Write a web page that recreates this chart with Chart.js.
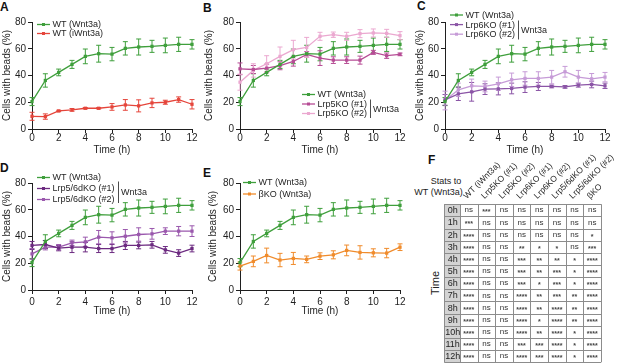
<!DOCTYPE html>
<html><head><meta charset="utf-8">
<script src="https://cdn.jsdelivr.net/npm/chart.js@4.4.1/dist/chart.umd.min.js"></script>
<style>
html,body{margin:0;padding:0;background:#fff;}
body{width:617px;height:364px;position:relative;overflow:hidden;font-family:"Liberation Sans",Arial,sans-serif;color:#1a1a1a;}
canvas{position:absolute;}
.lbl{position:absolute;font:bold 12px "Liberation Sans",Arial,sans-serif;line-height:1;color:#111;}
.txt{position:absolute;font:9px "Liberation Sans",Arial,sans-serif;line-height:1;color:#222;white-space:nowrap;transform:translate(-50%,-50%);}
</style></head><body>
<div class="lbl" style="left:0px;top:1px">A</div>
<div class="lbl" style="left:203px;top:2px">B</div>
<div class="lbl" style="left:417px;top:0px">C</div>
<div class="lbl" style="left:0px;top:162px">D</div>
<div class="lbl" style="left:203px;top:167px">E</div>
<div class="lbl" style="left:428px;top:154px">F</div>
<div class="txt" style="left:446px;top:181px">Stats to</div>
<div class="txt" style="left:438.5px;top:192px">WT (Wnt3a)</div>
<div class="txt" style="left:435px;top:283px;font-size:11px;transform:translate(-50%,-50%) rotate(-90deg)">Time</div>
<canvas id="cA" width="200" height="147" style="left:0px;top:10px;width:200px;height:147px"></canvas>
<canvas id="cB" width="206" height="147" style="left:202px;top:10px;width:206px;height:147px"></canvas>
<canvas id="cC" width="200" height="147" style="left:413px;top:10px;width:200px;height:147px"></canvas>
<canvas id="cD" width="200" height="147" style="left:0px;top:171px;width:200px;height:147px"></canvas>
<canvas id="cE" width="202" height="147" style="left:206px;top:171px;width:202px;height:147px"></canvas>
<canvas id="cF" width="212" height="224" style="left:405px;top:140px;width:212px;height:224px"></canvas>
<script>
// ---------- data ----------
const hours = [0,1,2,3,4,5,6,7,8,9,10,11,12];
const wtWnt3a      = [20.5,36.3,42.3,48.3,54.3,56.3,56.0,60.3,61.3,61.8,62.5,63.3,63.3];
const wtWnt3aErr   = [3,5,2.5,3,5.5,6.3,5,5,6,4.5,5.5,5.3,3.5];
const wtIWnt3a     = [9.5,9.3,13.5,14.3,15.5,15.5,16.5,18,17.3,19.5,20,22,18.5];
const wtIWnt3aErr  = [3,2,0.5,1,0.5,0.5,2.5,4,4.5,3.5,1.5,2,3.5];
const lrp5ko1      = [45,44.5,45.5,47.3,50.5,55.8,53,51.5,51.5,51.5,57.3,54.8,55.8];
const lrp5ko1Err   = [4.4,3,3,3,3.5,2,5.5,2.5,2.5,3,1.5,2,1];
const lrp5ko2      = [35,43.8,48.8,54.3,59.3,61,69.3,70.5,69.3,71.3,71.8,71.5,69.8];
const lrp5ko2Err   = [6,5,6,7,7,7.5,3,2,3,3,3,3,3];
const lrp6ko1      = [21.8,26.3,27.8,29.8,30,30.3,31.3,31.8,31.8,31.5,32.8,33.3,32.3];
const lrp6ko1Err   = [4,5,7,4,4.5,4,4,3,1,1,1.5,2.5,2];
const lrp6ko2      = [21.3,29.3,32.3,31.8,33.8,36.8,37.8,37.8,38.8,42.8,38.8,37.5,38.8];
const lrp6ko2Err   = [7,5,5,4,5,5,5,5,5,4,5,4,3.5];
const dko1         = [33.3,34,31.3,32,32,31,31,33.3,33.3,33.8,30,27.6,31];
const dko1Err      = [3,3,2,4,3.5,3,3,3,2.5,2.5,2.5,2.5,2.5];
const dko2         = [27,32,32,35.3,36,39.5,39,40.2,41.5,42,44,44,44];
const dko2Err      = [4,2,2,2,3.5,5,4.5,5,5,4,2.5,3.5,4];
const bko          = [17.9,21.4,25.8,22.4,23.6,22.9,25.3,26.3,29.6,28.1,27.8,27.6,32];
const bkoErr       = [3,4,5.5,5,4.5,2.5,2.5,3,4,5,3,3.5,2.5];
const yTicks = [0,20,40,60,80];
const xTicks = [0,2,4,6,8,10,12];

const statCols = ['WT (iWnt3a)','Lrp5KO (#1)','Lrp5KO (#2)','Lrp6KO (#1)','Lrp6KO (#2)','Lrp5/6dKO (#1)','Lrp5/6dKO (#2)','βKO'];
const statRows = ['0h','1h','2h','3h','4h','5h','6h','7h','8h','9h','10h','11h','12h'];
const statWTi    = ['ns','***','****','****','****','****','****','****','****','****','****','****','****'];
const statL5a    = ['***','ns','ns','ns','ns','ns','ns','ns','ns','ns','ns','ns','ns'];
const statL5b    = ['ns','ns','ns','ns','ns','ns','ns','ns','ns','ns','ns','ns','ns'];
const statL6a    = ['ns','ns','ns','**','***','***','***','****','****','****','****','***','****'];
const statL6b    = ['ns','ns','ns','*','**','**','*','**','**','*','**','***','***'];
const statDa     = ['ns','ns','ns','*','**','***','***','***','****','****','****','****','****'];
const statDb     = ['ns','ns','ns','ns','*','*','*','**','**','**','*','*','*'];
const statBKO    = ['ns','ns','*','***','****','****','****','****','****','****','****','****','****'];
const statTable  = [statWTi,statL5a,statL5b,statL6a,statL6b,statDa,statDb,statBKO];

// ---------- styles ----------
const FAM = '"Liberation Sans", Arial, sans-serif';
const INK = '#1f1f1f';
const C = {wt:'#3f9f3c', wti:'#e5453b', l5a:'#b64c95', l5b:'#eba8d0', l6a:'#8b55a6', l6b:'#c69bd7', da:'#6c2a80', db:'#9a58ad', bko:'#f08b2b'};

const errPlugin = {
  id:'errBars',
  beforeDatasetsDraw(chart){
    const ctx = chart.ctx, ys = chart.scales.y;
    chart.data.datasets.forEach((ds,di)=>{
      const meta = chart.getDatasetMeta(di);
      ctx.save(); ctx.strokeStyle = ds.borderColor; ctx.lineWidth = 1;
      meta.data.forEach((pt,i)=>{
        const v = ds.data[i].y, e = ds.errors[i];
        const yt = ys.getPixelForValue(v+e), yb = ys.getPixelForValue(v-e);
        const x = pt.x;
        ctx.beginPath();
        ctx.moveTo(x,yt); ctx.lineTo(x,yb);
        ctx.moveTo(x-2.5,yt); ctx.lineTo(x+2.5,yt);
        ctx.moveTo(x-2.5,yb); ctx.lineTo(x+2.5,yb);
        ctx.stroke();
      });
      ctx.restore();
    });
  }
};

const legendPlugin = {
  id:'sideLegend',
  afterDraw(chart, args, o){
    if(!o || o.x === undefined) return;
    const ctx = chart.ctx;
    const ox = chart.canvas.offsetLeft, oy = chart.canvas.offsetTop;
    ctx.save();
    ctx.font = '9px ' + FAM;
    ctx.textBaseline = 'middle';
    chart.data.datasets.forEach((ds,i)=>{
      const x0 = o.x - ox, y = o.y + i*o.rowH - oy;
      ctx.strokeStyle = ds.borderColor; ctx.lineWidth = 1.3;
      ctx.beginPath(); ctx.moveTo(x0,y); ctx.lineTo(x0+13,y); ctx.stroke();
      ctx.fillStyle = ds.borderColor;
      ctx.fillRect(x0+6.5-1.5,y-1.5,3,3);
      ctx.fillStyle = INK;
      ctx.fillText(ds.label, x0+15.5, y+0.5);
    });
    if(o.bracket){
      const b = o.bracket;
      ctx.strokeStyle = INK; ctx.lineWidth = 0.8;
      ctx.beginPath(); ctx.moveTo(b.x-ox+0.5,b.y1-oy); ctx.lineTo(b.x-ox+0.5,b.y2-oy); ctx.stroke();
      ctx.fillStyle = INK;
      ctx.fillText(b.text, b.x-ox+3, (b.y1+b.y2)/2-oy+0.5);
    }
    ctx.restore();
  }
};

function mkDs(label, vals, errs, color){
  return {label, data: hours.map((h,i)=>({x:h,y:vals[i]})), errors: errs,
    borderColor: color, backgroundColor: color, pointBackgroundColor: color,
    pointBorderWidth: 0, pointStyle:'rect', pointRadius: 2.3, borderWidth: 1.3,
    tension: 0, clip: false};
}

function axisCommon(){
  return {
    grid:{display:true, drawOnChartArea:false, drawTicks:true, tickLength:4, tickColor:INK, lineWidth:1},
    border:{display:true, color:INK, width:1}
  };
}

function lineChart(id, yW, xPad, yTitlePad, datasets, legend){
  const ax = axisCommon(), ay = axisCommon();
  new Chart(document.getElementById(id), {
    type:'line',
    data:{datasets},
    options:{
      responsive:false, animation:false, devicePixelRatio:1,
      layout:{padding:{top:12,right:8,bottom:0,left:0}},
      plugins:{legend:{display:false}, tooltip:{enabled:false}, sideLegend:legend},
      scales:{
        x:{type:'linear', min:0, max:12, offset:false,
           afterBuildTicks(s){ s.ticks = xTicks.map(v=>({value:v})); },
           ticks:{color:INK, font:{size:10, family:FAM}, padding:xPad, maxRotation:0, autoSkip:false},
           grid:ax.grid, border:ax.border,
           title:{display:true, text:'Time (h)', color:INK, font:{size:10, family:FAM}, padding:{top:0,bottom:1}},
           afterFit(s){ s.height = 28; }},
        y:{type:'linear', min:0, max:80,
           afterBuildTicks(s){ s.ticks = yTicks.map(v=>({value:v})); },
           ticks:{color:INK, font:{size:10, family:FAM}, padding:2},
           grid:ay.grid, border:ay.border,
           title:{display:true, text:'Cells with beads (%)', color:INK, font:{size:10, family:FAM}, padding:{top:yTitlePad,bottom:0}},
           afterFit(s){ s.width = yW; }}
      }
    },
    plugins:[errPlugin, legendPlugin]
  });
}

lineChart('cA', 32, -1, 1, [
  mkDs('WT (Wnt3a)', wtWnt3a, wtWnt3aErr, C.wt),
  mkDs('WT (iWnt3a)', wtIWnt3a, wtIWnt3aErr, C.wti)
], {x:37, y:24.5, rowH:9});

lineChart('cB', 38, -1, 1, [
  mkDs('WT (Wnt3a)', wtWnt3a, wtWnt3aErr, C.wt),
  mkDs('Lrp5KO (#1)', lrp5ko1, lrp5ko1Err, C.l5a),
  mkDs('Lrp5KO (#2)', lrp5ko2, lrp5ko2Err, C.l5b)
], {x:302, y:94.5, rowH:9.5, bracket:{x:370, y1:99.5, y2:118, text:'Wnt3a'}});

lineChart('cC', 32, -1, 1, [
  mkDs('WT (Wnt3a)', wtWnt3a, wtWnt3aErr, C.wt),
  mkDs('Lrp6KO (#1)', lrp6ko1, lrp6ko1Err, C.l6a),
  mkDs('Lrp6KO (#2)', lrp6ko2, lrp6ko2Err, C.l6b)
], {x:450, y:15, rowH:9.6, bracket:{x:518, y1:20.5, y2:39.5, text:'Wnt3a'}});

lineChart('cD', 32, 2, 1, [
  mkDs('WT (Wnt3a)', wtWnt3a, wtWnt3aErr, C.wt),
  mkDs('Lrp5/6dKO (#1)', dko1, dko1Err, C.da),
  mkDs('Lrp5/6dKO (#2)', dko2, dko2Err, C.db)
], {x:37, y:177.5, rowH:11, bracket:{x:118, y1:181.5, y2:203, text:'Wnt3a'}});

lineChart('cE', 34, 2, 1, [
  mkDs('WT (Wnt3a)', wtWnt3a, wtWnt3aErr, C.wt),
  mkDs('βKO (Wnt3a)', bko, bkoErr, C.bko)
], {x:243, y:182.5, rowH:11.5});

// ---------- stats table ----------
const cellData = [];
statTable.forEach((col,c)=>col.forEach((v,r)=>cellData.push({x:c+0.5, y:r+0.5, v})));

const tablePlugin = {
  id:'statTable',
  afterDatasetsDraw(chart){
    const {ctx, scales:{x,y}} = chart;
    const nC = statCols.length, nR = statRows.length;
    const xl = x.getPixelForValue(x.min), x0 = x.getPixelForValue(0), xr = x.getPixelForValue(nC);
    ctx.save();
    ctx.fillStyle = '#d3d3d3';
    ctx.fillRect(xl, y.getPixelForValue(0), x0-xl, y.getPixelForValue(nR)-y.getPixelForValue(0));
    ctx.strokeStyle = '#8c8c8c'; ctx.lineWidth = 1;
    ctx.beginPath();
    for(let r=0;r<=nR;r++){ const py=Math.round(y.getPixelForValue(r))+0.5; ctx.moveTo(xl,py); ctx.lineTo(xr,py); }
    [x.min].concat([...Array(nC+1).keys()]).forEach(c=>{ const px=Math.round(x.getPixelForValue(c))+0.5; ctx.moveTo(px,y.getPixelForValue(0)); ctx.lineTo(px,y.getPixelForValue(nR)); });
    ctx.stroke();
    ctx.fillStyle = INK; ctx.textAlign='center'; ctx.textBaseline='middle';
    ctx.font = '9px ' + FAM;
    statRows.forEach((t,r)=>ctx.fillText(t, (xl+x0)/2+0.5, y.getPixelForValue(r+0.5)+0.5));
    const meta = chart.getDatasetMeta(0);
    meta.data.forEach((pt,i)=>{
      const v = cellData[i].v;
      if(v==='ns'){ ctx.font='8px '+FAM; ctx.fillStyle='#333'; ctx.fillText(v, pt.x, pt.y); }
      else { ctx.font='bold 7px '+FAM; ctx.fillStyle='#444'; ctx.fillText(v, pt.x, pt.y+2); }
    });
    ctx.font = '8.5px ' + FAM; ctx.fillStyle = INK; ctx.textAlign='left'; ctx.textBaseline='alphabetic';
    statCols.forEach((t,c)=>{
      ctx.save();
      ctx.translate(x.getPixelForValue(c+0.5)-2, y.getPixelForValue(0)-5);
      ctx.rotate(-Math.PI/4);
      ctx.fillText(t,0,0);
      ctx.restore();
    });
    ctx.restore();
  }
};

new Chart(document.getElementById('cF'), {
  type:'scatter',
  data:{datasets:[{data:cellData, pointRadius:0, pointHoverRadius:0}]},
  options:{
    responsive:false, animation:false, devicePixelRatio:1,
    layout:{padding:{left:39.3, right:16, top:64.2, bottom:1.7}},
    plugins:{legend:{display:false}, tooltip:{enabled:false}},
    scales:{
      x:{type:'linear', min:-0.89, max:8, display:false},
      y:{type:'linear', min:0, max:13, reverse:true, display:false}
    }
  },
  plugins:[tablePlugin]
});
</script>
</body></html>
